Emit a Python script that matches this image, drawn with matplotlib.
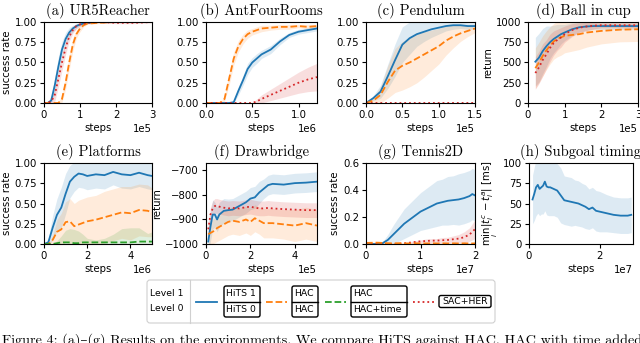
import numpy as np
import matplotlib
matplotlib.use("Agg")
import matplotlib.pyplot as plt
from matplotlib.patches import FancyBboxPatch

# ---------------- data ----------------
COL_HITS, COL_HAC, COL_TIME, COL_SAC = "#1f77b4", "#ff7f0e", "#2ca02c", "#d62728"

# (a) UR5Reacher, x in units of 1e5 steps
A_X = [0, 0.1, 0.2, 0.3, 0.4, 0.5, 0.6, 0.7, 0.8, 0.9, 1.0, 1.1, 1.2, 1.5, 2.0, 2.5, 3.0]
A_HITS = [0, 0.0, 0.03, 0.22, 0.45, 0.66, 0.79, 0.87, 0.92, 0.95, 0.97, 0.98, 0.99, 1.0, 1.0, 1.0, 1.0]
A_HITS_SD = [0, 0.01, 0.05, 0.1, 0.12, 0.1, 0.08, 0.06, 0.04, 0.03, 0.02, 0.01, 0.01, 0.0, 0.0, 0.0, 0.0]
A_SAC = [0, 0.0, 0.02, 0.10, 0.30, 0.50, 0.68, 0.82, 0.90, 0.95, 0.97, 0.98, 0.99, 1.0, 0.99, 0.99, 1.0]
A_SAC_SD = [0, 0.0, 0.03, 0.08, 0.1, 0.1, 0.08, 0.06, 0.04, 0.03, 0.02, 0.01, 0.01, 0.01, 0.01, 0.01, 0.01]
A_HAC = [0, 0.0, 0.0, 0.0, 0.0, 0.05, 0.25, 0.50, 0.72, 0.85, 0.92, 0.96, 0.98, 0.99, 1.0, 1.0, 1.0]
A_HAC_SD = [0, 0.0, 0.0, 0.0, 0.01, 0.04, 0.08, 0.09, 0.08, 0.05, 0.04, 0.02, 0.01, 0.01, 0.0, 0.0, 0.0]

# (b) AntFourRooms, x in units of 1e6 steps
B_X = [0, 0.1, 0.15, 0.2, 0.25, 0.3, 0.35, 0.4, 0.45, 0.5, 0.55, 0.6, 0.7, 0.8, 0.9, 1.0, 1.1, 1.2]
B_HAC = [0, 0, 0, 0.05, 0.30, 0.55, 0.70, 0.79, 0.85, 0.88, 0.90, 0.92, 0.93, 0.94, 0.94, 0.95, 0.94, 0.95]
B_HAC_SD = [0, 0, 0, 0.03, 0.08, 0.08, 0.07, 0.06, 0.05, 0.04, 0.04, 0.04, 0.03, 0.03, 0.03, 0.02, 0.03, 0.02]
B_HITS = [0, 0, 0, 0, 0, 0.01, 0.15, 0.28, 0.42, 0.50, 0.55, 0.60, 0.66, 0.76, 0.84, 0.88, 0.90, 0.92]
B_HITS_SD = [0, 0, 0, 0, 0, 0.01, 0.05, 0.06, 0.07, 0.06, 0.06, 0.05, 0.05, 0.04, 0.03, 0.03, 0.03, 0.03]
B_SAC = [0, 0, 0, 0, 0, 0, 0, 0, 0, 0, 0.02, 0.05, 0.10, 0.15, 0.20, 0.25, 0.29, 0.32]
B_SAC_SD = [0, 0, 0, 0, 0, 0, 0, 0, 0, 0, 0.03, 0.05, 0.07, 0.09, 0.11, 0.13, 0.15, 0.17]

# (c) Pendulum, x in units of 1e5 steps
C_X = [0, 0.1, 0.2, 0.3, 0.4, 0.5, 0.6, 0.7, 0.8, 0.9, 1.0, 1.1, 1.2, 1.3, 1.4, 1.5]
C_HITS = [0, 0.06, 0.14, 0.33, 0.53, 0.72, 0.80, 0.85, 0.88, 0.91, 0.93, 0.95, 0.96, 0.96, 0.95, 0.95]
C_HITS_SD = [0, 0.03, 0.08, 0.15, 0.20, 0.22, 0.20, 0.15, 0.12, 0.10, 0.08, 0.06, 0.05, 0.04, 0.04, 0.04]
C_HAC = [0, 0.03, 0.10, 0.26, 0.40, 0.46, 0.50, 0.55, 0.60, 0.65, 0.70, 0.77, 0.82, 0.86, 0.89, 0.92]
C_HAC_SD = [0, 0.03, 0.10, 0.20, 0.27, 0.30, 0.30, 0.30, 0.28, 0.25, 0.22, 0.18, 0.14, 0.10, 0.07, 0.05]
C_SAC = [0, 0, 0, 0, 0, 0, 0, 0, 0, 0, 0, 0, 0, 0, 0, 0]
C_SAC_SD = [0, 0, 0, 0, 0, 0, 0, 0, 0, 0, 0, 0, 0, 0, 0, 0]

# (d) Ball in cup, x in units of 1e5 steps
D_X = [0.2, 0.3, 0.4, 0.5, 0.6, 0.7, 0.8, 0.9, 1.0, 1.2, 1.4, 1.6, 1.8, 2.0, 2.5, 3.0]
D_HITS = [510, 560, 640, 700, 750, 790, 820, 850, 870, 910, 935, 945, 950, 950, 950, 950]
D_HITS_SD = [300, 300, 280, 250, 200, 170, 150, 120, 100, 80, 60, 50, 40, 40, 40, 40]
D_HAC = [430, 500, 580, 650, 710, 760, 790, 810, 830, 840, 850, 870, 880, 890, 905, 910]
D_HAC_SD = [250, 250, 250, 240, 230, 220, 220, 220, 210, 200, 190, 180, 170, 160, 150, 150]
D_SAC = [370, 440, 530, 600, 680, 740, 780, 810, 850, 900, 930, 945, 955, 960, 960, 960]
D_SAC_SD = [200, 200, 200, 180, 170, 150, 130, 120, 100, 80, 60, 50, 40, 30, 30, 30]

# (e) Platforms, x in units of 1e6 steps
E_X = [0, 0.2, 0.4, 0.6, 0.8, 1.0, 1.2, 1.4, 1.6, 1.8, 2.0, 2.4, 2.8, 3.2, 3.6, 4.0, 4.4, 4.8, 5.0]
E_HITS = [0, 0.02, 0.20, 0.36, 0.45, 0.62, 0.77, 0.83, 0.87, 0.86, 0.84, 0.86, 0.85, 0.89, 0.86, 0.85, 0.88, 0.85, 0.84]
E_HITS_SD = [0, 0.05, 0.15, 0.20, 0.25, 0.25, 0.20, 0.18, 0.17, 0.17, 0.17, 0.17, 0.17, 0.16, 0.17, 0.17, 0.17, 0.17, 0.17]
E_HAC = [0, 0, 0.05, 0.15, 0.18, 0.27, 0.28, 0.22, 0.24, 0.26, 0.28, 0.30, 0.33, 0.36, 0.39, 0.38, 0.42, 0.41, 0.39]
E_HAC_SD = [0, 0, 0.05, 0.15, 0.20, 0.25, 0.28, 0.28, 0.30, 0.30, 0.30, 0.30, 0.32, 0.32, 0.32, 0.33, 0.32, 0.32, 0.30]
E_TIME = [0, 0, 0, 0.01, 0.02, 0.02, 0.02, 0.01, 0.01, 0.02, 0.02, 0.02, 0.02, 0.02, 0.02, 0.02, 0.03, 0.03, 0.03]
E_TIME_SD = [0, 0, 0, 0.03, 0.08, 0.15, 0.17, 0.17, 0.15, 0.10, 0.05, 0.03, 0.05, 0.10, 0.17, 0.18, 0.17, 0.10, 0.12]

# (f) Drawbridge, x in units of 1e5 steps
F_X = [0.1, 0.2, 0.3, 0.4, 0.5, 0.6, 0.8, 1.0, 1.2, 1.5, 1.8, 2.0, 2.2, 2.4, 2.6, 2.8, 3.0, 3.5, 4.0, 4.5, 5.0]
F_HITS = [-990, -930, -880, -880, -900, -880, -865, -862, -860, -845, -830, -815, -810, -790, -775, -760, -755, -758, -752, -750, -746]
F_HITS_SD = [50, 60, 60, 50, 50, 50, 50, 45, 45, 45, 45, 45, 45, 45, 40, 40, 40, 40, 40, 40, 40]
F_SAC = [-940, -880, -855, -845, -845, -848, -852, -855, -853, -855, -850, -848, -852, -855, -855, -853, -855, -858, -860, -862, -862]
F_SAC_SD = [30] * 21
F_HAC = [-960, -955, -950, -945, -935, -930, -920, -910, -905, -910, -900, -910, -895, -905, -915, -915, -915, -920, -925, -915, -925]
F_HAC_SD = [40, 45, 50, 50, 55, 55, 55, 55, 55, 55, 55, 55, 55, 55, 60, 60, 60, 60, 65, 65, 65]

# (g) Tennis2D, x in units of 1e7 steps
G_X = [0, 0.2, 0.3, 0.4, 0.5, 0.6, 0.7, 0.8, 0.9, 1.0, 1.1, 1.2, 1.3, 1.4, 1.5, 1.6, 1.7, 1.8, 1.9, 1.95, 2.0]
G_HITS = [0, 0, 0.005, 0.03, 0.07, 0.11, 0.15, 0.18, 0.21, 0.24, 0.26, 0.28, 0.30, 0.31, 0.32, 0.325, 0.33, 0.34, 0.355, 0.37, 0.36]
G_HITS_SD = [0, 0, 0.01, 0.04, 0.07, 0.09, 0.11, 0.12, 0.13, 0.14, 0.15, 0.16, 0.17, 0.17, 0.18, 0.18, 0.19, 0.19, 0.19, 0.19, 0.19]
G_SAC = [0, 0, 0, 0, 0, 0.002, 0.005, 0.01, 0.015, 0.02, 0.022, 0.025, 0.025, 0.028, 0.03, 0.035, 0.04, 0.05, 0.07, 0.09, 0.11]
G_SAC_SD = [0, 0, 0, 0, 0, 0, 0, 0.005, 0.01, 0.01, 0.015, 0.015, 0.015, 0.02, 0.02, 0.025, 0.03, 0.04, 0.05, 0.06, 0.07]
G_HAC = [0.008, 0.01, 0.008, 0.006, 0.005, 0.006, 0.005, 0.004, 0.005, 0.005, 0.004, 0.005, 0.004, 0.005, 0.004, 0.005, 0.004, 0.005, 0.004, 0.004, 0.005]
G_HAC_SD = [0.006] * 21

# (h) Subgoal timing, x in units of 1e7 steps
H_X = [0.1, 0.15, 0.2, 0.25, 0.3, 0.35, 0.4, 0.45, 0.5, 0.55, 0.6, 0.7, 0.8, 0.9, 1.0, 1.1, 1.2, 1.3, 1.4, 1.5,
       1.6, 1.7, 1.8, 1.9, 2.0, 2.2, 2.4, 2.6, 2.8, 2.9]
H_HITS = [55, 62, 70, 73, 68, 70, 72, 77, 71, 70, 70, 68, 66, 60, 54, 53, 52, 51, 50, 48,
          46, 43, 45, 41, 40, 38, 36, 35, 35, 36]
H_HITS_SD = [30, 33, 35, 35, 33, 33, 35, 36, 35, 35, 35, 33, 33, 34, 30, 30, 30, 28, 28, 27,
             27, 25, 25, 25, 25, 23, 22, 22, 22, 22]

TITLES = ["(a) UR5Reacher", "(b) AntFourRooms", "(c) Pendulum", "(d) Ball in cup",
          "(e) Platforms", "(f) Drawbridge", "(g) Tennis2D", "(h) Subgoal timing"]
YLABELS = ["success rate", None, None, "return",
           "success rate", "return", "success rate", r"$\min_i|t^c_i - t^a_i|$ [ms]"]
CAPTION = "Figure 4: (a)\u2013(g) Results on the environments. We compare HiTS against HAC, HAC with time added"

# ---------------- figure ----------------
W, H = 640, 343
plt.rcParams["font.family"] = ["DejaVu Sans"]
FS = 7.3
LFS = 6.7
plt.rcParams["font.size"] = FS
plt.rcParams["xtick.labelsize"] = FS
plt.rcParams["ytick.labelsize"] = FS
plt.rcParams["axes.labelsize"] = FS
plt.rcParams["axes.linewidth"] = 0.8
plt.rcParams["xtick.major.size"] = 3
plt.rcParams["ytick.major.size"] = 3
plt.rcParams["xtick.major.pad"] = 2
plt.rcParams["ytick.major.pad"] = 2
TITLE_FONT = ["cmr10", "DejaVu Serif"]

fig = plt.figure(figsize=(W / 100, H / 100), dpi=100)

# axes boxes in pixels: (left, right, top, bottom)
BOXES = [(44, 152, 22, 103), (206, 317, 22, 103), (366, 475, 22, 103), (528, 638, 22, 103),
         (44, 152, 163, 244), (206, 317, 163, 244), (366, 475, 163, 244), (529, 633, 163, 244)]

axes = []
for (l, r, t, b) in BOXES:
    ax = fig.add_axes([l / W, 1 - b / H, (r - l) / W, (b - t) / H])
    axes.append(ax)

LW = 1.3
ALPHA = 0.15


def series(ax, x, scale, mean, sd, color, ls):
    x = np.asarray(x) * scale
    m = np.asarray(mean, float)
    s = np.asarray(sd, float)
    ax.fill_between(x, m - s, m + s, color=color, alpha=ALPHA, lw=0)
    ax.plot(x, m, color=color, ls=ls, lw=LW)


# (a)
ax = axes[0]
series(ax, A_X, 1e5, A_HITS, A_HITS_SD, COL_HITS, "-")
series(ax, A_X, 1e5, A_HAC, A_HAC_SD, COL_HAC, "--")
series(ax, A_X, 1e5, A_SAC, A_SAC_SD, COL_SAC, ":")
ax.set_xlim(0, 3e5); ax.set_xticks(np.array([0, 1, 2, 3]) * 1e5)
# (b)
ax = axes[1]
series(ax, B_X, 1e6, B_HITS, B_HITS_SD, COL_HITS, "-")
series(ax, B_X, 1e6, B_HAC, B_HAC_SD, COL_HAC, "--")
series(ax, B_X, 1e6, B_SAC, B_SAC_SD, COL_SAC, ":")
ax.set_xlim(0, 1.2e6); ax.set_xticks(np.array([0, 0.5, 1.0]) * 1e6)
# (c)
ax = axes[2]
series(ax, C_X, 1e5, C_HITS, C_HITS_SD, COL_HITS, "-")
series(ax, C_X, 1e5, C_HAC, C_HAC_SD, COL_HAC, "--")
series(ax, C_X, 1e5, C_SAC, C_SAC_SD, COL_SAC, ":")
ax.set_xlim(0, 1.5e5); ax.set_xticks(np.array([0, 0.5, 1.0, 1.5]) * 1e5)
# (d)
ax = axes[3]
series(ax, D_X, 1e5, D_HITS, D_HITS_SD, COL_HITS, "-")
series(ax, D_X, 1e5, D_HAC, D_HAC_SD, COL_HAC, "--")
series(ax, D_X, 1e5, D_SAC, D_SAC_SD, COL_SAC, ":")
ax.set_xlim(0, 3e5); ax.set_xticks(np.array([0, 1, 2, 3]) * 1e5)
ax.set_ylim(0, 1000); ax.set_yticks([0, 250, 500, 750, 1000])
# (e)
ax = axes[4]
series(ax, E_X, 1e6, E_HITS, E_HITS_SD, COL_HITS, "-")
series(ax, E_X, 1e6, E_HAC, E_HAC_SD, COL_HAC, "--")
series(ax, E_X, 1e6, E_TIME, E_TIME_SD, COL_TIME, "--")
ax.set_xlim(0, 5e6); ax.set_xticks(np.array([0, 2, 4]) * 1e6)
# (f)
ax = axes[5]
series(ax, F_X, 1e5, F_HITS, F_HITS_SD, COL_HITS, "-")
series(ax, F_X, 1e5, F_HAC, F_HAC_SD, COL_HAC, "--")
series(ax, F_X, 1e5, F_SAC, F_SAC_SD, COL_SAC, ":")
ax.set_xlim(0, 5e5); ax.set_xticks(np.array([0, 2, 4]) * 1e5)
ax.set_ylim(-1000, -670); ax.set_yticks([-1000, -900, -800, -700])
# (g)
ax = axes[6]
series(ax, G_X, 1e7, G_HITS, G_HITS_SD, COL_HITS, "-")
series(ax, G_X, 1e7, G_SAC, G_SAC_SD, COL_SAC, ":")
series(ax, G_X, 1e7, G_HAC, G_HAC_SD, COL_HAC, "--")
ax.set_xlim(0, 2e7); ax.set_xticks(np.array([0, 1, 2]) * 1e7)
ax.set_ylim(0, 0.6); ax.set_yticks([0, 0.2, 0.4, 0.6])
ax.set_yticklabels(["0.0", "0.2", "0.4", "0.6"])
# (h)
ax = axes[7]
series(ax, H_X, 1e7, H_HITS, H_HITS_SD, COL_HITS, "-")
ax.set_xlim(0, 2.95e7); ax.set_xticks(np.array([0, 2]) * 1e7)
ax.set_ylim(0, 100); ax.set_yticks([0, 25, 50, 75, 100])

for i in (0, 1, 2, 4):
    axes[i].set_ylim(0, 1)
    axes[i].set_yticks([0, 0.25, 0.5, 0.75, 1.0])

for i, ax in enumerate(axes):
    ax.set_title(TITLES[i], family=TITLE_FONT, fontsize=10.5, pad=5)
    ax.set_xlabel("steps", labelpad=2)
    if YLABELS[i]:
        ax.set_ylabel(YLABELS[i], labelpad=2)
    ax.ticklabel_format(axis="x", style="sci", scilimits=(0, 0))
    ax.xaxis.get_offset_text().set_fontsize(FS)

# ---------------- legend (table-like) ----------------
lax = fig.add_axes([0, 0, 1, 1], zorder=5)
lax.set_xlim(0, W); lax.set_ylim(H, 0); lax.axis("off")
lax.add_patch(FancyBboxPatch((147, 280), 348, 43, boxstyle="round,pad=0,rounding_size=3",
                             fc="white", ec="#d0d0d0", lw=0.8))
lax.plot([190, 190], [280, 323], color="#d0d0d0", lw=0.8)
lax.text(167, 294, "Level 1", ha="center", va="center", fontsize=LFS)
lax.text(167, 308.5, "Level 0", ha="center", va="center", fontsize=LFS)

LEG_HANDLES = [(196, 217, COL_HITS, "-"), (266, 287, COL_HAC, "--"), (325, 346, COL_TIME, "--"), (413, 434, COL_SAC, ":")]
for x0, x1, c, ls in LEG_HANDLES:
    lax.plot([x0, x1], [301.5, 301.5], color=c, ls=ls, lw=LW)

LEG_BOXES = [(224, 260, "HiTS 1", "HiTS 0"), (292, 318, "HAC", "HAC"), (351, 407, "HAC", "HAC+time")]
for x0, x1, t1, t2 in LEG_BOXES:
    lax.add_patch(FancyBboxPatch((x0, 286), x1 - x0, 31, boxstyle="round,pad=0,rounding_size=2",
                                 fc="none", ec="black", lw=1.0))
    lax.plot([x0, x1], [301.5, 301.5], color="black", lw=1.0)
    lax.text(x0 + 2.5, 294, t1, ha="left", va="center", fontsize=LFS)
    lax.text(x0 + 2.5, 309, t2, ha="left", va="center", fontsize=LFS)
lax.add_patch(FancyBboxPatch((439, 295.5), 52, 12, boxstyle="round,pad=0,rounding_size=2",
                             fc="none", ec="black", lw=1.0))
lax.text(465, 301.5, "SAC+HER", ha="center", va="center", fontsize=LFS)

# caption (cut off at bottom like the reference)
fig.text(2 / W, 1 - 333 / H, CAPTION, ha="left", va="top", family=TITLE_FONT, fontsize=10.2)

fig.savefig("out.png", dpi=100)
